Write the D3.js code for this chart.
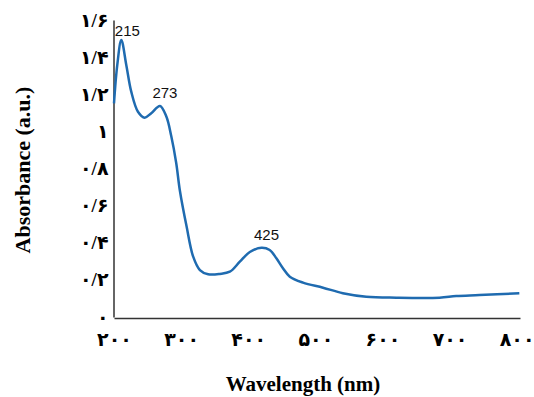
<!DOCTYPE html>
<html>
<head>
<meta charset="utf-8">
<script src="https://cdn.jsdelivr.net/npm/d3@7"></script>
<style>
  body { margin: 0; background: #fff; }
</style>
</head>
<body>
<div id="chart"></div>
<script>
// spectrum: wavelength (nm) / absorbance
const wavelength = [200, 204.9, 210.9, 218.3, 225.7, 235.7, 245.7, 255.5, 268.5, 278, 285.3, 292.7, 298.2, 308.2, 318, 328, 340.3, 357.7, 372.6, 387.5, 402.4, 419.8, 432, 442, 451.5, 462, 481.7, 511.5, 541, 576, 620.7, 685, 710, 744.6, 804]
const absorbance = [1.151, 1.358, 1.492, 1.358, 1.214, 1.106, 1.074, 1.098, 1.137, 1.08, 0.975, 0.83, 0.68, 0.487, 0.325, 0.253, 0.23, 0.232, 0.244, 0.298, 0.35, 0.373, 0.361, 0.316, 0.264, 0.217, 0.185, 0.158, 0.128, 0.109, 0.104, 0.104, 0.113, 0.118, 0.128]
const xTicks = [200, 300, 400, 500, 600, 700, 800]
const yTicks = [0, 0.2, 0.4, 0.6, 0.8, 1, 1.2, 1.4, 1.6]
const peakLabels = ['215', '273', '425']
const peakAt = [[210.9, 1.492], [268.5, 1.137], [419.8, 0.373]]

const width = 534, height = 397
const margin = {top: 20, right: 14, bottom: 80, left: 114}

// persian digits, slash as decimal mark
const fa = '۰۱۲۳۴۵۶۷۸۹'
const toFa = v => {
  const s = String(Math.round(v * 10) / 10)
  return s.replace(/[0-9]/g, c => fa[+c]).replace('.', '/')
}

const svg = d3.select('#chart').append('svg')
  .attr('width', width)
  .attr('height', height)

const x = d3.scaleLinear()
  .domain([200, 805])
  .range([margin.left, width - margin.right])
const y = d3.scaleLinear()
  .domain([0, 1.6])
  .range([height - margin.bottom, margin.top])

const tickFont = '"Times New Roman", "Liberation Serif", "DejaVu Sans", serif'

// axes
const xAxis = svg.append('g')
  .attr('transform', `translate(0, ${y(0) + 1})`)
  .call(d3.axisBottom(x).tickValues(xTicks).tickSize(0).tickPadding(15).tickFormat(toFa))
xAxis.select('.domain').attr('stroke', '#333').attr('stroke-width', 1.5)
xAxis.selectAll('text')
  .style('font-family', tickFont)
  .style('font-weight', 'bold')
  .style('font-size', '19px')
  .attr('fill', '#000')

const yAxis = svg.append('g')
  .attr('transform', `translate(${margin.left - 0.5}, 0)`)
  .call(d3.axisLeft(y).tickValues(yTicks).tickSize(0).tickPadding(5).tickFormat(toFa))
yAxis.select('.domain').attr('stroke', '#333').attr('stroke-width', 1.5)
yAxis.selectAll('text')
  .style('font-family', tickFont)
  .style('font-weight', 'bold')
  .style('font-size', '19px')
  .attr('fill', '#000')

// curve
const line = d3.line()
  .x(d => x(d[0]))
  .y(d => y(d[1]))
  .curve(d3.curveCatmullRom.alpha(0.5))
svg.append('path')
  .datum(wavelength.map((w, i) => [w, absorbance[i]]))
  .attr('fill', 'none')
  .attr('stroke', '#1f6bb0')
  .attr('stroke-width', 2.5)
  .attr('d', line)

// peak labels
svg.append('g').selectAll('text').data(peakLabels)
  .enter().append('text')
  .text(d => d)
  .attr('x', (d, i) => x(peakAt[i][0]) + (i === 0 ? 6 : 5))
  .attr('y', (d, i) => y(peakAt[i][1]) - (i === 0 ? 4 : 8))
  .attr('text-anchor', 'middle')
  .style('font-family', '"Liberation Sans", Arial, sans-serif')
  .style('font-size', '15px')
  .attr('fill', '#111')

// axis titles
svg.append('text')
  .text('Wavelength (nm)')
  .attr('x', 303)
  .attr('y', 391)
  .attr('text-anchor', 'middle')
  .style('font-family', '"Times New Roman", "Liberation Serif", serif')
  .style('font-weight', 'bold')
  .style('font-size', '21px')

svg.append('text')
  .text('Absorbance (a.u.)')
  .attr('transform', 'translate(30, 170) rotate(-90)')
  .attr('text-anchor', 'middle')
  .style('font-family', '"Times New Roman", "Liberation Serif", serif')
  .style('font-weight', 'bold')
  .style('font-size', '22px')
</script>
</body>
</html>
